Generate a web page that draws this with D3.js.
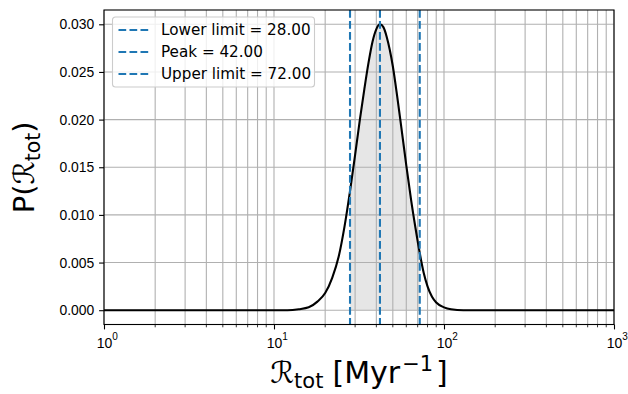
<!DOCTYPE html>
<html>
<head>
<meta charset="utf-8">
<script src="https://cdn.jsdelivr.net/npm/d3@7"></script>
<style>
  body { margin: 0; background: #fff; }
  svg { font-family: "DejaVu Sans", sans-serif; }
</style>
</head>
<body>
<svg id="chart"></svg>
<script>
// values
let rateValues = [1, 10, 12, 14, 16, 18, 20, 22, 24, 26, 28, 30, 32, 34, 36, 38, 40, 42, 44, 46, 48, 50, 53, 56, 60, 64, 68, 72, 76, 80, 85, 90, 100, 110, 130, 1000];
let probValues = [0, 0, 0, 0.0001, 0.0003, 0.0009, 0.0018, 0.0034, 0.0056, 0.0088, 0.0125, 0.0163, 0.0200, 0.0232, 0.0260, 0.0282, 0.0295, 0.0300, 0.0297, 0.0287, 0.0273, 0.0256, 0.0225, 0.0193, 0.0152, 0.0116, 0.0086, 0.0060, 0.0039, 0.0025, 0.0014, 0.0008, 0.0003, 0.0001, 0, 0];
let limitValues = [28, 42, 72];
let limitNames = ['Lower limit', 'Peak', 'Upper limit'];
let yTicks = [0, 0.005, 0.010, 0.015, 0.020, 0.025, 0.030];
let xTicks = [1, 10, 100, 1000];

let width = 628;
let height = 394;
let margin = {top: 10, right: 14, bottom: 69.5, left: 104};
let blue = '#1f77b4';

let data = rateValues.map(function(r, i) { return [r, probValues[i]] });

let svg = d3.select('#chart')
	.attr('width', width)
	.attr('height', height);

let x = d3.scaleLog().domain([1, 1000]).range([margin.left, width - margin.right]);
let y = d3.scaleLinear().domain([-0.0015, 0.0315]).range([height - margin.bottom, margin.top]);

// grid positions: every integer multiple inside each decade
let minorX = [];
for (let dec = 1; dec < 1000; dec *= 10) {
	for (let k = 1; k < 10; k++) minorX.push(dec * k);
}
minorX.push(1000);

// shaded area between lower and upper limits
svg.append('clipPath')
	.attr('id', 'band')
	.append('rect')
	.attr('x', x(limitValues[0]))
	.attr('y', margin.top)
	.attr('width', x(limitValues[2]) - x(limitValues[0]))
	.attr('height', height - margin.top - margin.bottom);

let area = d3.area()
	.x(function(d) { return x(d[0]) })
	.y0(y(0))
	.y1(function(d) { return y(d[1]) })
	.curve(d3.curveMonotoneX);

svg.append('path')
	.datum(data)
	.attr('clip-path', 'url(#band)')
	.attr('d', area)
	.attr('fill', 'gray')
	.attr('fill-opacity', 0.2);

let grid = svg.append('g').attr('class', 'grid');

grid.selectAll('.vx')
	.data(minorX)
	.enter()
	.append('line')
	.attr('x1', function(d) { return x(d) })
	.attr('x2', function(d) { return x(d) })
	.attr('y1', margin.top)
	.attr('y2', height - margin.bottom)
	.attr('stroke', '#b0b0b0')
	.attr('stroke-width', 1.1);

grid.selectAll('.hy')
	.data(yTicks)
	.enter()
	.append('line')
	.attr('x1', margin.left)
	.attr('x2', width - margin.right)
	.attr('y1', function(d) { return y(d) })
	.attr('y2', function(d) { return y(d) })
	.attr('stroke', '#b0b0b0')
	.attr('stroke-width', 1.1);

// the curve
let line = d3.line()
	.x(function(d) { return x(d[0]) })
	.y(function(d) { return y(d[1]) })
	.curve(d3.curveMonotoneX);

svg.append('path')
	.datum(data)
	.attr('d', line)
	.attr('fill', 'none')
	.attr('stroke', 'black')
	.attr('stroke-width', 2.1);

// dashed limit lines
svg.append('g')
	.selectAll('line')
	.data(limitValues)
	.enter()
	.append('line')
	.attr('x1', function(d) { return x(d) })
	.attr('x2', function(d) { return x(d) })
	.attr('y1', margin.top)
	.attr('y2', height - margin.bottom)
	.attr('stroke', blue)
	.attr('stroke-width', 2.1)
	.attr('stroke-dasharray', '7.7,3.3');

// axes
let xAxis = svg.append('g')
	.attr('transform', 'translate(0,' + (height - margin.bottom) + ')')
	.call(d3.axisBottom(x).tickValues(xTicks).tickSize(4.9).tickPadding(4.9).tickFormat(''));

xAxis.selectAll('.tick').each(function(d) {
	let t = d3.select(this).select('text')
		.attr('font-size', 14)
		.attr('fill', 'black')
		.attr('dy', '0.95em');
	t.append('tspan').text('10');
	t.append('tspan').attr('font-size', 10).attr('dy', '-0.75em').text(Math.round(Math.log10(d)));
	t.attr('dx', '0.2em');
});

let minorTicks = minorX.filter(function(d) { return xTicks.indexOf(d) < 0 });
svg.append('g')
	.selectAll('line')
	.data(minorTicks)
	.enter()
	.append('line')
	.attr('x1', function(d) { return x(d) })
	.attr('x2', function(d) { return x(d) })
	.attr('y1', height - margin.bottom)
	.attr('y2', height - margin.bottom + 2.8)
	.attr('stroke', 'black')
	.attr('stroke-width', 0.8);

let yAxis = svg.append('g')
	.attr('transform', 'translate(' + margin.left + ',0)')
	.call(d3.axisLeft(y).tickValues(yTicks).tickSize(4.9).tickPadding(4.9).tickFormat(d3.format('.3f')));

yAxis.selectAll('text').attr('font-size', 13.9).attr('fill', 'black');
svg.selectAll('.domain').remove();
svg.selectAll('.tick line').attr('stroke-width', 1.1);

// frame
svg.append('rect')
	.attr('x', margin.left)
	.attr('y', margin.top)
	.attr('width', width - margin.left - margin.right)
	.attr('height', height - margin.top - margin.bottom)
	.attr('fill', 'none')
	.attr('stroke', 'black')
	.attr('stroke-width', 1.1);

// legend
let legend = svg.append('g').attr('transform', 'translate(112.5,17)');
legend.append('rect')
	.attr('width', 202)
	.attr('height', 70)
	.attr('rx', 3)
	.attr('fill', 'white')
	.attr('fill-opacity', 0.8)
	.attr('stroke', '#cccccc')
	.attr('stroke-width', 1.1);

let rows = legend.selectAll('.row')
	.data(limitValues)
	.enter()
	.append('g')
	.attr('transform', function(d, i) { return 'translate(0,' + (13 + i * 22) + ')' });

rows.append('line')
	.attr('x1', 6)
	.attr('x2', 36)
	.attr('stroke', blue)
	.attr('stroke-width', 2.1)
	.attr('stroke-dasharray', '7.7,3.3');

rows.append('text')
	.attr('x', 48.5)
	.attr('dy', '0.36em')
	.attr('font-size', 15.2)
	.text(function(d, i) { return limitNames[i] + ' = ' + d.toFixed(2) });

// axis labels
let xl = svg.append('text')
	.attr('x', (margin.left + width - margin.right) / 2)
	.attr('y', 383)
	.attr('text-anchor', 'middle')
	.attr('font-size', 30);
xl.append('tspan').text('ℛ');
xl.append('tspan').attr('font-size', 21).attr('dy', 5).text('tot');
xl.append('tspan').attr('dy', -5).attr('dx', 9).text('[Myr');
xl.append('tspan').attr('font-size', 21).attr('dy', -12).attr('dx', 2).text('−1');
xl.append('tspan').attr('dy', 12).attr('dx', 3).text(']');

let yl = svg.append('text')
	.attr('transform', 'translate(34,' + ((margin.top + height - margin.bottom) / 2) + ') rotate(-90)')
	.attr('text-anchor', 'middle')
	.attr('font-size', 29);
yl.append('tspan').text('P(');
yl.append('tspan').text('ℛ');
yl.append('tspan').attr('font-size', 20.5).attr('dy', 6).text('tot');
yl.append('tspan').attr('dy', -6).text(')');
</script>
</body>
</html>
